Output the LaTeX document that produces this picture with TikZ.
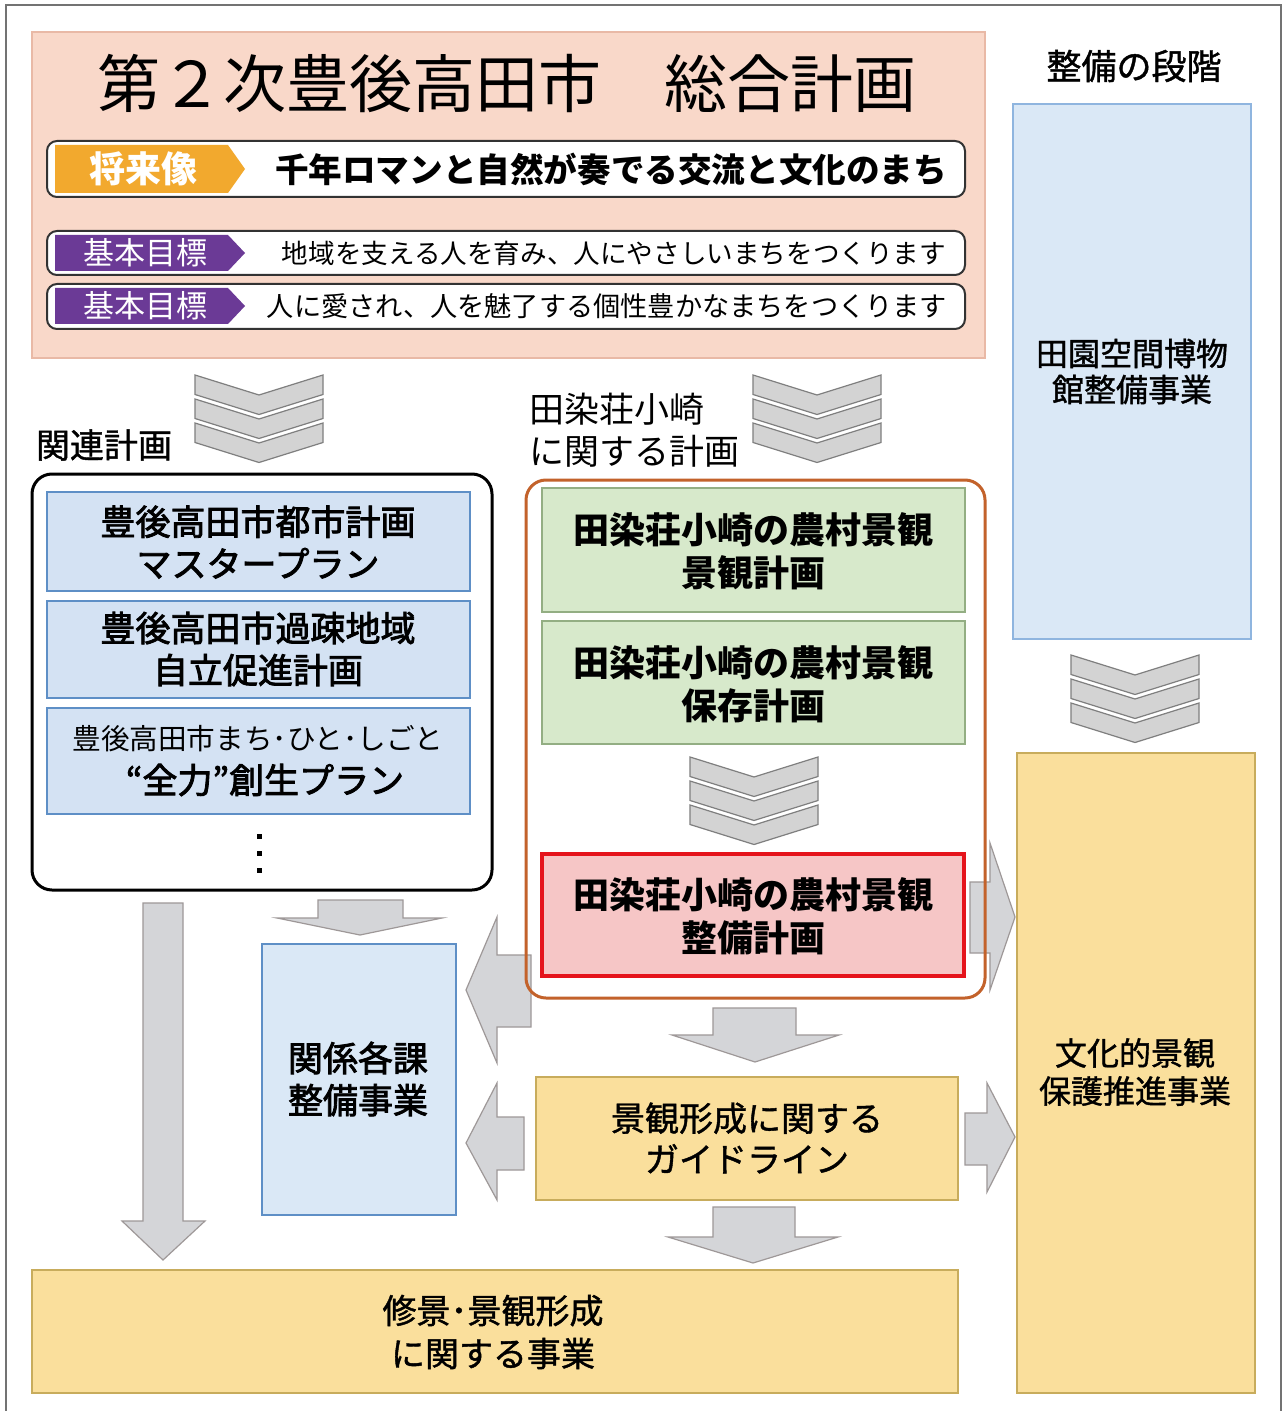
\documentclass[tikz,border=0pt]{standalone}
\usepackage{fontspec}
\setmainfont{Noto Sans CJK JP}
\newfontfamily\jpmed[FakeBold=1.2]{Noto Sans CJK JP}
\newfontfamily\jpsemi[FakeBold=2.4]{Noto Sans CJK JP}
\usetikzlibrary{fit,calc}
\definecolor{pinkbg}{HTML}{F9D8C9}
\definecolor{pinkedge}{HTML}{E9B9A6}
\definecolor{tagorange}{HTML}{F2A92E}
\definecolor{tagpurple}{HTML}{6B3A96}
\definecolor{bluefill}{HTML}{D4E2F3}
\definecolor{blueedge}{HTML}{5E8FC6}
\definecolor{tallblue}{HTML}{DAE8F6}
\definecolor{tallblueedge}{HTML}{8FB5DF}
\definecolor{greenfill}{HTML}{D7E9CB}
\definecolor{greenedge}{HTML}{93AE83}
\definecolor{redfill}{HTML}{F6C6C6}
\definecolor{rededge}{HTML}{E5141C}
\definecolor{yelfill}{HTML}{FADF9C}
\definecolor{yeledge}{HTML}{C8AC5C}
\definecolor{brownedge}{HTML}{C3622B}
\definecolor{arrfill}{HTML}{D4D5D8}
\definecolor{arredge}{HTML}{9E9898}
\definecolor{chevfill}{HTML}{D3D3D3}
\definecolor{chevedge}{HTML}{7F7F7F}
\newcommand\fsz[2]{\fontsize{#1}{#2}\selectfont}
\tikzset{
  boxbase/.style={inner sep=0pt, outer sep=0pt},
  rowbox/.style={boxbase, fill=white, draw=black!80, line width=1pt, rounded corners=5pt},
  bluebox/.style={boxbase, fill=bluefill, draw=blueedge, line width=0.7pt},
  greenbox/.style={boxbase, fill=greenfill, draw=greenedge, line width=0.7pt},
  redbox/.style={boxbase, fill=redfill, draw=rededge, line width=2pt},
  yelbox/.style={boxbase, fill=yelfill, draw=yeledge, line width=0.7pt},
  container/.style={boxbase, line width=1.5pt, rounded corners=10pt},
  txt/.style={inner sep=0pt, align=center},
  barrow/.style={fill=arrfill, draw=arredge, line width=0.6pt, line join=miter},
  trichev/.pic={
    \foreach \i in {0,1,2}{
      \pgfmathsetmacro\yo{\i*24}
      \filldraw[fill=chevfill, draw=chevedge, line width=0.6pt]
        (0,\yo) -- (64,\yo+20) -- (128,\yo) -- (128,\yo+19.5) -- (64,\yo+39.5) -- (0,\yo+19.5) -- cycle;
    }
  }
}
\begin{document}
\begin{tikzpicture}[x=0.5pt,y=-0.5pt]
\useasboundingbox (0,0) rectangle (1284,1411);
\fill[white] (0,0) rectangle (1284,1411);
% outer frame
\draw[black!55, line width=1pt] (6,1411) -- (6,5) -- (1281,5) -- (1281,1411);

% ---------- top panel ----------
\node[boxbase, fit={(32,32)(985,358)}, fill=pinkbg, draw=pinkedge, line width=0.6pt] (top) {};
\node[txt, font=\fsz{31.5}{36}] (title) at (507,84) {第２次豊後高田市　総合計画};

\node[rowbox, fit={(47,141)(965,197)}] (r1) {};
\fill[tagorange] (55,145) -- (228,145) -- (245,169) -- (228,193) -- (55,193) -- cycle;
\node[txt, text=white, font=\bfseries\fsz{18}{20}] (t1) at (143,169) {将来像};
\node[txt, font=\bfseries\fsz{16.8}{20}] (m1) at (611,169) {千年ロマンと自然が奏でる交流と文化のまち};

\node[rowbox, fit={(47,231)(965,275)}] (r2) {};
\fill[tagpurple] (55,235) -- (228,235) -- (245,253) -- (228,271) -- (55,271) -- cycle;
\node[txt, text=white, font=\fsz{15.5}{18}] (t2) at (145,253) {基本目標};
\node[txt, font=\fsz{13.3}{16}] (m2) at (614,253) {地域を支える人を育み、人にやさしいまちをつくります};

\node[rowbox, fit={(47,284)(965,329)}] (r3) {};
\fill[tagpurple] (55,288) -- (228,288) -- (245,306) -- (228,324) -- (55,324) -- cycle;
\node[txt, text=white, font=\fsz{15.5}{18}] (t3) at (145,306) {基本目標};
\node[txt, font=\fsz{13.6}{16}] (m3) at (607,306) {人に愛され、人を魅了する個性豊かなまちをつくります};

% ---------- right column ----------
\node[txt, font=\jpmed\fsz{17.5}{20}] (stage) at (1134,66) {整備の段階};
\node[boxbase, fit={(1013,104)(1251,639)}, fill=tallblue, draw=tallblueedge, line width=0.7pt] (museum) {};
\node[txt, font=\jpmed\fsz{16}{18}] at (museum.center) {田園空間博物\\館整備事業};
\pic at (1071,655) {trichev};
\node[yelbox, fit={(1017,753)(1255,1393)}] (bunka) {};
\node[txt, font=\jpmed\fsz{16}{19}] at (1135,1072) {文化的景観\\保護推進事業};

% ---------- arrows (drawn beneath containers) ----------
\filldraw[barrow] (970,882) -- (990,882) -- (990,843) -- (1015,917) -- (990,990) -- (990,953) -- (970,953) -- cycle;
\filldraw[barrow] (531,955) -- (497,955) -- (497,917) -- (466,990) -- (497,1063) -- (497,1027) -- (531,1027) -- cycle;
\filldraw[barrow] (524,1117) -- (497,1117) -- (497,1083) -- (466,1143) -- (497,1200) -- (497,1170) -- (524,1170) -- cycle;
\filldraw[barrow] (965,1113) -- (987,1113) -- (987,1083) -- (1015,1137) -- (987,1192) -- (987,1165) -- (965,1165) -- cycle;
\filldraw[barrow] (318,900) -- (403,900) -- (403,918) -- (442,918) -- (360,935) -- (277,918) -- (318,918) -- cycle;
\filldraw[barrow] (713,1008) -- (796,1008) -- (796,1035) -- (839,1035) -- (755,1062) -- (672,1035) -- (713,1035) -- cycle;
\filldraw[barrow] (713,1207) -- (795,1207) -- (795,1237) -- (838,1237) -- (753,1263) -- (668,1237) -- (713,1237) -- cycle;
\filldraw[barrow] (143,903) -- (183,903) -- (183,1221) -- (205,1221) -- (163,1260) -- (122,1221) -- (143,1221) -- cycle;

% ---------- left column ----------
\pic at (195,375) {trichev};
\node[txt, font=\jpmed\fsz{17}{20}] (relt) at (104,445) {関連計画};
\node[container, fit={(32,474)(492,890)}, draw=black] (rel) {};
\node[bluebox, fit={(47,492)(470,591)}] (b1) {};
\node[txt, font=\jpsemi\fsz{17.5}{21}] at (258,542) {豊後高田市都市計画\\マスタープラン};
\node[bluebox, fit={(47,601)(470,698)}] (b2) {};
\node[txt, font=\jpsemi\fsz{17.5}{21}] at (258,649) {豊後高田市過疎地域\\自立促進計画};
\node[bluebox, fit={(47,708)(470,814)}] (b3) {};
\node[txt, font=\fsz{14.3}{14.3}] at (258,739) {豊後高田市まち･ひと･しごと};
\node[txt, font=\jpsemi\fsz{17.5}{21}] at (265,780) {“全力”創生プラン};
\foreach \yy in {834,851,868} \fill (257,\yy) rectangle ++(5,5);

% ---------- middle column ----------
\node[txt, align=left, anchor=west, font=\fsz{17.5}{21}] (tashibu) at (529,430) {田染荘小崎\\に関する計画};
\pic at (753,375) {trichev};
\node[container, fit={(526,480)(985,998)}, draw=brownedge] (plan) {};
\node[greenbox, fit={(542,488)(965,612)}] (g1) {};
\node[txt, font=\bfseries\fsz{18}{21.5}] at (753,551) {田染荘小崎の農村景観\\景観計画};
\node[greenbox, fit={(542,621)(965,744)}] (g2) {};
\node[txt, font=\bfseries\fsz{18}{21.5}] at (753,684) {田染荘小崎の農村景観\\保存計画};
\pic at (690,757) {trichev};
\node[redbox, fit={(542,854)(964,976)}] (seibi) {};
\node[txt, font=\bfseries\fsz{18}{21.5}] at (753,916) {田染荘小崎の農村景観\\整備計画};

% ---------- lower boxes ----------
\node[bluebox, fit={(262,944)(456,1215)}, fill=tallblue] (kakka) {};
\node[txt, font=\jpsemi\fsz{17.5}{21}] at (358,1079) {関係各課\\整備事業};
\node[yelbox, fit={(536,1077)(958,1200)}] (guide) {};
\node[txt, font=\jpmed\fsz{17}{20.5}] at (747,1138) {景観形成に関する\\ガイドライン};
\node[yelbox, fit={(32,1270)(958,1393)}] (shukei) {};
\node[txt, font=\jpmed\fsz{17}{21.5}] at (493,1332) {修景･景観形成\\に関する事業};
\end{tikzpicture}
\end{document}
